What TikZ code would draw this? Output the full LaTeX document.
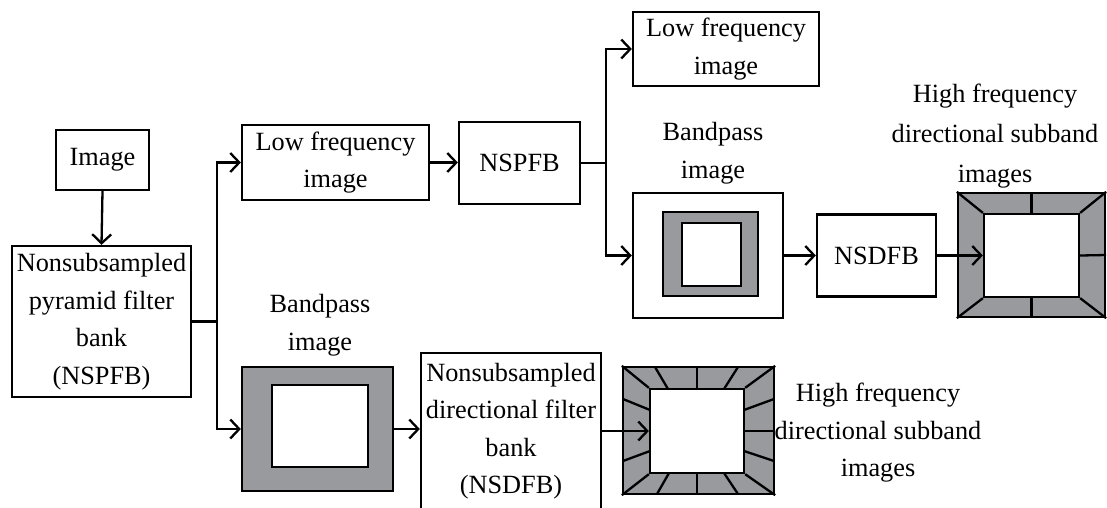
\documentclass[tikz,border=0pt]{standalone}
\usepackage{fontspec}
\setmainfont{Liberation Serif}
\usetikzlibrary{arrows.meta,calc}
\definecolor{framegray}{RGB}{152,154,158}
\begin{document}
\begin{tikzpicture}[x=1pt,y=-1pt,
  txt/.style={font=\fontsize{26.3}{37.5}\selectfont},
  box/.style={draw,line width=2.3pt,align=center,inner sep=0pt,fill=white,txt},
  lbl/.style={align=center,inner sep=0pt,txt},
  arr/.style={line width=2.3pt,-{Straight Barb[length=9pt,width=19pt]}},
  ln/.style={line width=2.3pt},
  frame/.style={draw,line width=2.3pt,fill=framegray,inner sep=0pt},
  hole/.style={draw,line width=2.3pt,fill=white,inner sep=0pt}]
\useasboundingbox (0,0) rectangle (1107,507);
\clip (0,0) rectangle (1107,507);

% left column
\node[box,minimum width=93pt,minimum height=60pt] (img) at (102.5,160) {Image};
\node[box,minimum width=179pt,minimum height=151pt] (nspfb) at (101.5,321.5)
  {Nonsubsampled\\pyramid filter\\bank\\(NSPFB)};
\coordinate (j1) at (217,321.5);

% upper branch
\node[box,minimum width=187pt,minimum height=75pt] (lf1) at (335.5,162.5) {Low frequency\\image};
\node[box,minimum width=121pt,minimum height=82pt] (nspfbb) at (519.5,163) {NSPFB};
\coordinate (j2) at (606,163);
\node[box,minimum width=186pt,minimum height=74pt] (lf2) at (726,49) {Low frequency\\image};

\node[lbl] (bpl2) at (713,153) {Bandpass\\image};
\node[box,minimum width=150pt,minimum height=125pt] (bp2) at (708,255.5) {};
\node[frame,minimum width=95pt,minimum height=84pt] (bp2g) at (710.5,254) {};
\node[hole,minimum width=59pt,minimum height=63pt] (bp2w) at (711.5,254.5) {};

\node[box,minimum width=119pt,minimum height=82pt] (nsdfb) at (876.5,255.5) {NSDFB};

\node[lbl,font=\fontsize{26.3}{40}\selectfont] (hfl2) at (995,136) {High frequency\\directional subband\\images};
\node[frame,minimum width=147pt,minimum height=124pt] (d2o) at (1031.5,255) {};
\node[hole,minimum width=95pt,minimum height=83pt] (d2i) at (1031.5,255.5) {};
\draw[ln] (d2o.north west) -- (d2i.north west);
\draw[ln] (d2o.north east) -- (d2i.north east);
\draw[ln] (d2o.south west) -- (d2i.south west);
\draw[ln] (d2o.south east) -- (d2i.south east);
\draw[ln] (d2o.north) -- (d2i.north);
\draw[ln] (d2o.south) -- (d2i.south);
\draw[ln] (d2o.east) -- (d2i.east);

% lower branch
\node[lbl] (bpl1) at (320,325) {Bandpass\\image};
\node[frame,minimum width=151pt,minimum height=124pt] (bp1) at (317.5,429) {};
\node[hole,minimum width=96pt,minimum height=82pt] (bp1w) at (320,426) {};

\node[box,minimum width=180pt,minimum height=156pt] (nsdfbb) at (511,431)
  {Nonsubsampled\\directional filter\\bank\\(NSDFB)};

\node[frame,minimum width=151pt,minimum height=127pt] (d1o) at (698.5,430.5) {};
\node[hole,minimum width=94pt,minimum height=84pt] (d1i) at (697,431) {};
\draw[ln] (d1o.north west) -- (d1i.north west);
\draw[ln] (d1o.north east) -- (d1i.north east);
\draw[ln] (d1o.south west) -- (d1i.south west);
\draw[ln] (d1o.south east) -- (d1i.south east);
% top / bottom spokes
\draw[ln] (655,367) -- (668,389);
\draw[ln] (697,367) -- (697,389);
\draw[ln] (738,367) -- (724,389);
\draw[ln] (657,494) -- (669,473);
\draw[ln] (697,494) -- (697,473);
\draw[ln] (738,494) -- (724,473);
% left / right spokes
\draw[ln] (623,399) -- (650,410);
\draw[ln] (623,461) -- (650,451);
\draw[ln] (774,399) -- (744,410);
\draw[ln] (774,431) -- (744,431);
\draw[ln] (774,461) -- (744,451);

\node[lbl] (hfl1) at (878,433) {High frequency\\directional subband\\images};

% connectors
\draw[arr] (img.south) -- (nspfb.north);
\draw[ln] (nspfb.east) -- (j1);
\draw[arr] (j1) |- (lf1.west);
\draw[arr] (j1) |- (bp1.west);
\draw[arr] (lf1.east) -- (lf1.east -| nspfbb.west);
\draw[ln] (nspfbb.east) -- (j2);
\draw[arr] (j2) |- (lf2.west);
\draw[arr] (j2) |- (bp2.west);
\draw[arr] (bp2.east) -- (bp2.east -| nsdfb.west);
\draw[arr] (nsdfb.east) -- (nsdfb.east -| d2i.west);
\draw[arr] (bp1.east) -- (bp1.east -| nsdfbb.west);
\draw[arr] (d1i.west -| nsdfbb.east) -- (d1i.west);
\end{tikzpicture}
\end{document}
